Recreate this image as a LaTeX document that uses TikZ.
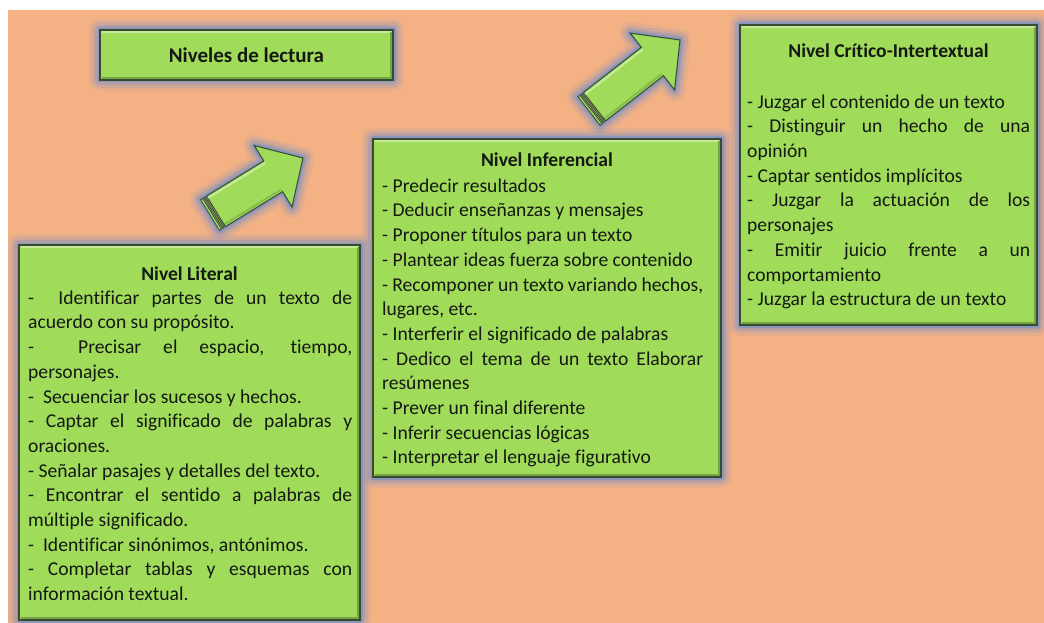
\documentclass[tikz,border=0pt]{standalone}
\usepackage{fontspec}
\setmainfont{Carlito}[Ligatures=NoCommon]
\usetikzlibrary{calc}
\definecolor{bgor}{RGB}{244,177,131}
\definecolor{boxg}{RGB}{160,219,90}
\definecolor{edgec}{RGB}{55,75,45}
\definecolor{glowc}{RGB}{85,135,220}
\definecolor{txtc}{RGB}{20,25,20}
\tikzset{
  glowing/.style={
    preaction={draw=glowc,line width=22pt,opacity=.09,line join=round},
    preaction={draw=glowc,line width=16pt,opacity=.14,line join=round},
    preaction={draw=glowc,line width=10pt,opacity=.24,line join=round},
    preaction={draw=glowc,line width=5pt,opacity=.4,line join=round}},
  lvlbox/.style={glowing, draw=edgec, line width=1.3pt, fill=boxg, inner sep=0pt, outer sep=0pt},
  headtext/.style={font=\fontsize{19.6}{24}\selectfont\bfseries, text=txtc, anchor=base, inner sep=0pt},
  bodytext/.style={font=\fontsize{19.6}{24.7}\selectfont, text=txtc, anchor=north west, inner sep=0pt, text width=#1, align=justify},
  hilite/.style={white, opacity=.4, line width=2pt},
  shade/.style={black, opacity=.25, line width=2pt}
}
\newcommand\lvlsetup{\setlength\parindent{0pt}\setlength\parskip{0pt}\spaceskip=0pt\xspaceskip=0pt\rightskip=0pt\hyphenpenalty=10000\rule{0pt}{16pt}}
\newcommand\lvlbevel[1]{%
  \draw[hilite] ([xshift=2pt,yshift=-1.8pt]#1.north west) -- ([xshift=-2pt,yshift=-1.8pt]#1.north east);
  \draw[shade] ([xshift=2pt,yshift=1.8pt]#1.south west) -- ([xshift=-1.8pt,yshift=1.8pt]#1.south east) -- ([xshift=-1.8pt,yshift=-2pt]#1.north east);
}
\newcommand\lvlarrow[2]{%
  \coordinate (#1s) at ($(#1)!7pt!(#2)$);
  \coordinate (#1h) at ($(#2)!35pt!(#1)$);
  \coordinate (#1a) at ($(#1)!2.5pt!(#2)$);
  \coordinate (#1b) at ($(#1)!4pt!(#2)$);
  \coordinate (#1c) at ($(#1)!5.5pt!(#2)$);
  \path[glowing] ($(#1)!18pt!90:(#2)$) -- ($(#1h)!18pt!90:(#2)$) -- ($(#1h)!36pt!90:(#2)$) -- (#2)
     -- ($(#1h)!36pt!-90:(#2)$) -- ($(#1h)!18pt!-90:(#2)$) -- ($(#1)!18pt!-90:(#2)$) -- cycle;
  \filldraw[fill=boxg,draw=edgec,line width=.8pt] ($(#1)!18pt!90:(#2)$) -- ($(#1a)!18pt!90:(#2)$)
     -- ($(#1a)!18pt!-90:(#2)$) -- ($(#1)!18pt!-90:(#2)$) -- cycle;
  \filldraw[fill=boxg,draw=edgec,line width=.8pt] ($(#1b)!18pt!90:(#2)$) -- ($(#1c)!18pt!90:(#2)$)
     -- ($(#1c)!18pt!-90:(#2)$) -- ($(#1b)!18pt!-90:(#2)$) -- cycle;
  \filldraw[fill=boxg,draw=edgec,line width=1pt,line join=miter] ($(#1s)!18pt!90:(#2)$) -- ($(#1h)!18pt!90:(#2)$)
     -- ($(#1h)!36pt!90:(#2)$) -- (#2) -- ($(#1h)!36pt!-90:(#2)$) -- ($(#1h)!18pt!-90:(#2)$)
     -- ($(#1s)!18pt!-90:(#2)$) -- cycle;
  \draw[hilite] ($(#1s)!15.5pt!90:(#2)$) -- ($(#1h)!15.5pt!90:(#2)$);
  \draw[shade,opacity=.15] ($(#1s)!15.5pt!-90:(#2)$) -- ($(#1h)!15.5pt!-90:(#2)$);
}
\begin{document}
\begin{tikzpicture}[x=1pt,y=-1pt]
\useasboundingbox (0,0) rectangle (1044,623);
\fill[white] (0,0) rectangle (1044,623);
\fill[bgor] (8,10) rectangle (1044,623);

% title
\node[lvlbox, minimum width=293pt, minimum height=50pt] (title) at (246.5,55) {};
\lvlbevel{title}
\node[headtext, font=\fontsize{21}{24}\selectfont\bfseries] (titletxt) at (246.5,63) {Niveles de lectura};

% arrows
\coordinate (a1) at (210,215);
\coordinate (a1p) at (303,158);
\lvlarrow{a1}{a1p}
\coordinate (a2) at (589,111);
\coordinate (a2p) at (680,40);
\lvlarrow{a2}{a2p}

% Nivel Literal
\node[lvlbox, minimum width=341pt, minimum height=375pt] (lit) at (189.5,432.5) {};
\lvlbevel{lit}
\node[headtext] (lithead) at (189.5,280) {Nivel Literal};
\node[bodytext=324pt] (littxt) at (28,288) {\lvlsetup
\makebox[\hsize][s]{-\ \ Identificar partes de un texto de}\par
acuerdo con su propósito.\par
\makebox[\hsize][s]{-\ \ Precisar el espacio, tiempo,}\par
personajes.\par
-\ \ Secuenciar los sucesos y hechos.\par
\makebox[\hsize][s]{- Captar el significado de palabras y}\par
oraciones.\par
- Señalar pasajes y detalles del texto.\par
\makebox[\hsize][s]{- Encontrar el sentido a palabras de}\par
múltiple significado.\par
-\ \ Identificar sinónimos, antónimos.\par
\makebox[\hsize][s]{- Completar tablas y esquemas con}\par
información textual.};

% Nivel Inferencial
\node[lvlbox, minimum width=348pt, minimum height=338pt] (inf) at (547,308) {};
\lvlbevel{inf}
\node[headtext] (infhead) at (547,166) {Nivel Inferencial};
\node[bodytext=321pt] (inftxt) at (382,176) {\lvlsetup
- Predecir resultados\par
- Deducir enseñanzas y mensajes\par
- Proponer títulos para un texto\par
- Plantear ideas fuerza sobre contenido\par
\makebox[\hsize][s]{- Recomponer un texto variando hechos,}\par
lugares, etc.\par
- Interferir el significado de palabras\par
\makebox[\hsize][s]{- Dedico el tema de un texto Elaborar}\par
resúmenes\par
- Prever un final diferente\par
- Inferir secuencias lógicas\par
- Interpretar el lenguaje figurativo};

% Nivel Critico-Intertextual
\node[lvlbox, minimum width=297pt, minimum height=300pt] (cri) at (888.5,175) {};
\lvlbevel{cri}
\node[headtext] (crihead) at (888.5,58) {Nivel Crítico-Intertextual};
\node[bodytext=283pt] (critxt) at (747,92) {\lvlsetup
- Juzgar el contenido de un texto\par
\makebox[\hsize][s]{- Distinguir un hecho de una}\par
opinión\par
- Captar sentidos implícitos\par
\makebox[\hsize][s]{- Juzgar la actuación de los}\par
personajes\par
\makebox[\hsize][s]{- Emitir juicio frente a un}\par
comportamiento\par
- Juzgar la estructura de un texto};
\end{tikzpicture}
\end{document}
